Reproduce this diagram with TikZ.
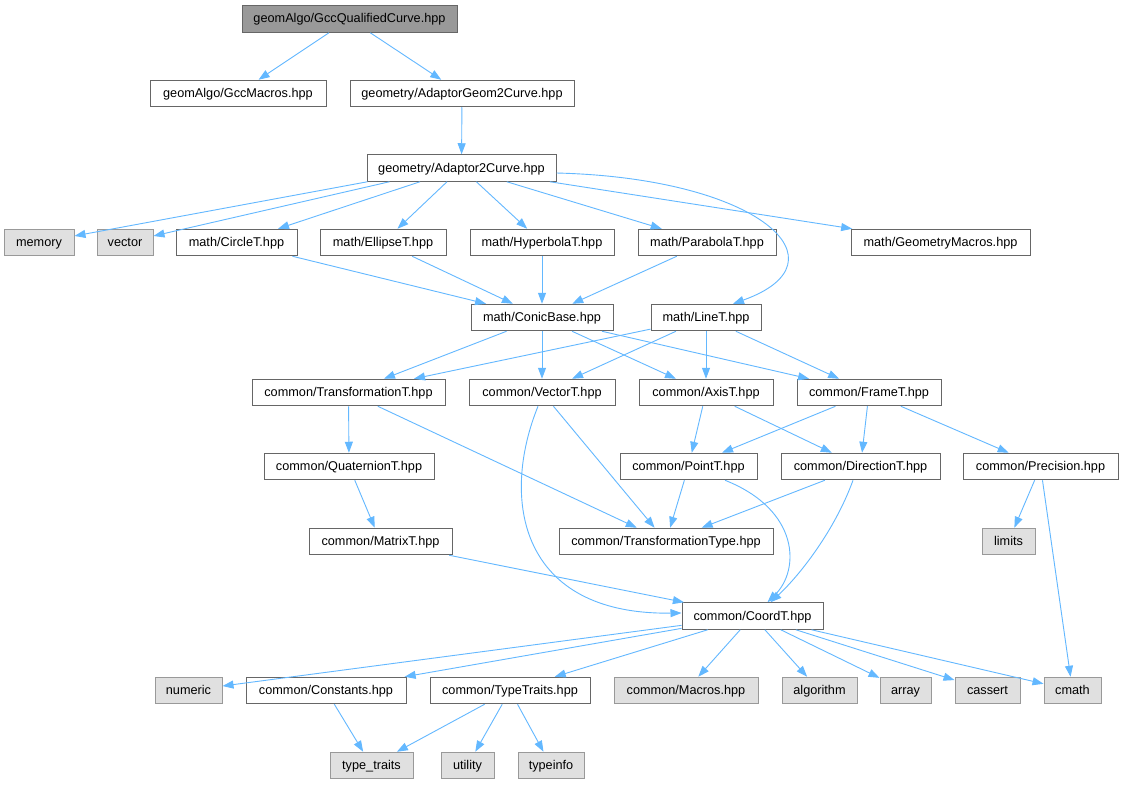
\documentclass[tikz,border=0pt]{standalone}
\usepackage{fontspec}
\setmainfont{Liberation Sans}
\usetikzlibrary{arrows.meta}
\definecolor{edgec}{RGB}{99,184,255}
\definecolor{cbd}{RGB}{102,102,102}
\definecolor{csysbd}{RGB}{153,153,153}
\definecolor{csysfill}{RGB}{224,224,224}
\definecolor{ccur}{RGB}{153,153,153}
\tikzset{
  base/.style={rectangle, minimum height=26.5pt, inner sep=0pt, line width=1pt,
    text height=10.5pt, text depth=2.5pt,
    font=\fontsize{12.7}{14}\selectfont, text=black},
  hdr/.style={base, fill=white, draw=cbd},
  sys/.style={base, fill=csysfill, draw=csysbd},
  cur/.style={base, fill=ccur, draw=cbd},
  e/.style={draw=edgec, line width=0.9pt, -{Triangle[length=11pt,width=8pt]}},
}
\begin{document}
\begin{tikzpicture}[x=1pt,y=-1pt]
\useasboundingbox[fill=white] (0,0) rectangle (1123,784);
% nodes
\node[cur, minimum width=215pt] (top) at (349.5,19) {geomAlgo/GccQualifiedCurve.hpp};
\node[hdr, minimum width=176pt] (gccmacros) at (238,93.5) {geomAlgo/GccMacros.hpp};
\node[hdr, minimum width=224pt] (adgeom) at (462,93.5) {geometry/AdaptorGeom2Curve.hpp};
\node[hdr, minimum width=189pt] (ad2) at (461.5,168) {geometry/Adaptor2Curve.hpp};
\node[sys, minimum width=70pt] (memory) at (39,242.5) {memory};
\node[sys, minimum width=56pt] (vector) at (125,242.5) {vector};
\node[hdr, minimum width=121pt] (circle) at (236.5,242.5) {math/CircleT.hpp};
\node[hdr, minimum width=126pt] (ellipse) at (383,242.5) {math/EllipseT.hpp};
\node[hdr, minimum width=144pt] (hyper) at (542,242.5) {math/HyperbolaT.hpp};
\node[hdr, minimum width=138pt] (parab) at (707,242.5) {math/ParabolaT.hpp};
\node[hdr, minimum width=179pt] (geommac) at (940.5,242.5) {math/GeometryMacros.hpp};
\node[hdr, minimum width=142pt] (conic) at (542,317.5) {math/ConicBase.hpp};
\node[hdr, minimum width=110pt] (line) at (706,317.5) {math/LineT.hpp};
\node[hdr, minimum width=193pt] (transT) at (348.5,392.5) {common/TransformationT.hpp};
\node[hdr, minimum width=146pt] (vecT) at (542,392.5) {common/VectorT.hpp};
\node[hdr, minimum width=134pt] (axis) at (706,392.5) {common/AxisT.hpp};
\node[hdr, minimum width=144pt] (frame) at (869,392.5) {common/FrameT.hpp};
\node[hdr, minimum width=170pt] (quat) at (349,466.5) {common/QuaternionT.hpp};
\node[hdr, minimum width=137pt] (point) at (688.5,466.5) {common/PointT.hpp};
\node[hdr, minimum width=159pt] (dir) at (860.5,466.5) {common/DirectionT.hpp};
\node[hdr, minimum width=155pt] (prec) at (1040.5,466.5) {common/Precision.hpp};
\node[hdr, minimum width=143pt] (matrix) at (380.5,541.5) {common/MatrixT.hpp};
\node[hdr, minimum width=214pt] (ttype) at (666,541.5) {common/TransformationType.hpp};
\node[sys, minimum width=53pt] (limits) at (1008.5,541.5) {limits};
\node[hdr, minimum width=141pt] (coord) at (752.5,616) {common/CoordT.hpp};
\node[sys, minimum width=67pt] (numeric) at (188.5,690.5) {numeric};
\node[hdr, minimum width=160pt] (const) at (326,690.5) {common/Constants.hpp};
\node[hdr, minimum width=160pt] (ttraits) at (510,690.5) {common/TypeTraits.hpp};
\node[sys, minimum width=144pt] (macros) at (686,690.5) {common/Macros.hpp};
\node[sys, minimum width=75pt] (algorithm) at (819.5,690.5) {algorithm};
\node[sys, minimum width=51pt] (array) at (905.5,690.5) {array};
\node[sys, minimum width=65pt] (cassert) at (987.5,690.5) {cassert};
\node[sys, minimum width=57pt] (cmath) at (1072.5,690.5) {cmath};
\node[sys, minimum width=83pt] (typetraits) at (371.5,765.5) {type\_traits};
\node[sys, minimum width=53pt] (utility) at (467.5,765.5) {utility};
\node[sys, minimum width=66pt] (typeinfo) at (551,765.5) {typeinfo};
% edges
\draw[e] (top) -- (gccmacros);
\draw[e] (top) -- (adgeom);
\draw[e] (adgeom) -- (ad2);
\draw[e] ([xshift=1pt]ad2.south west) -- (memory);
\draw[e] ([xshift=23pt]ad2.south west) -- (vector);
\draw[e] (ad2) -- (circle);
\draw[e] (ad2) -- (ellipse);
\draw[e] (ad2) -- (hyper);
\draw[e] (ad2) -- (parab);
\draw[e] (ad2) -- (geommac);
\draw[e] ([yshift=-5pt]ad2.east) .. controls (760,178) and (850,262) .. ([xshift=27pt]line.north);
\draw[e] (circle) -- (conic);
\draw[e] (ellipse) -- (conic);
\draw[e] (hyper) -- (conic);
\draw[e] (parab) -- (conic);
\draw[e] (conic) -- (transT);
\draw[e] (conic) -- (vecT);
\draw[e] (conic) -- (axis);
\draw[e] (conic) -- (frame);
\draw[e] (line) -- (transT);
\draw[e] (line) -- (vecT);
\draw[e] (line) -- (axis);
\draw[e] (line) -- (frame);
\draw[e] (transT) -- (quat);
\draw[e] (transT) -- (ttype);
\draw[e] (vecT) -- (ttype);
\draw[e] ([xshift=-4pt]vecT.south) .. controls (500,500) and (520,615) .. ([yshift=3pt]coord.west);
\draw[e] (axis) -- (point);
\draw[e] (axis) -- (dir);
\draw[e] (frame) -- (point);
\draw[e] (frame) -- (dir);
\draw[e] (frame) -- (prec);
\draw[e] (point) -- (ttype);
\draw[e] ([xshift=36.5pt]point.south) .. controls (800,510) and (800,570) .. ([xshift=15pt]coord.north);
\draw[e] (dir) -- (ttype);
\draw[e] ([xshift=-7.5pt]dir.south) .. controls (835,530) and (800,575) .. ([xshift=18pt]coord.north);
\draw[e] (prec) -- (limits);
\draw[e] (prec) -- (cmath);
\draw[e] (quat) -- (matrix);
\draw[e] (matrix) -- (coord);
\draw[e] (coord) -- (numeric);
\draw[e] (coord) -- (const);
\draw[e] (coord) -- (ttraits);
\draw[e] (coord) -- (macros);
\draw[e] (coord) -- (algorithm);
\draw[e] (coord) -- (array);
\draw[e] (coord) -- (cassert);
\draw[e] (coord) -- (cmath);
\draw[e] (const) -- (typetraits);
\draw[e] (ttraits) -- (typetraits);
\draw[e] (ttraits) -- (utility);
\draw[e] (ttraits) -- (typeinfo);
\end{tikzpicture}
\end{document}
